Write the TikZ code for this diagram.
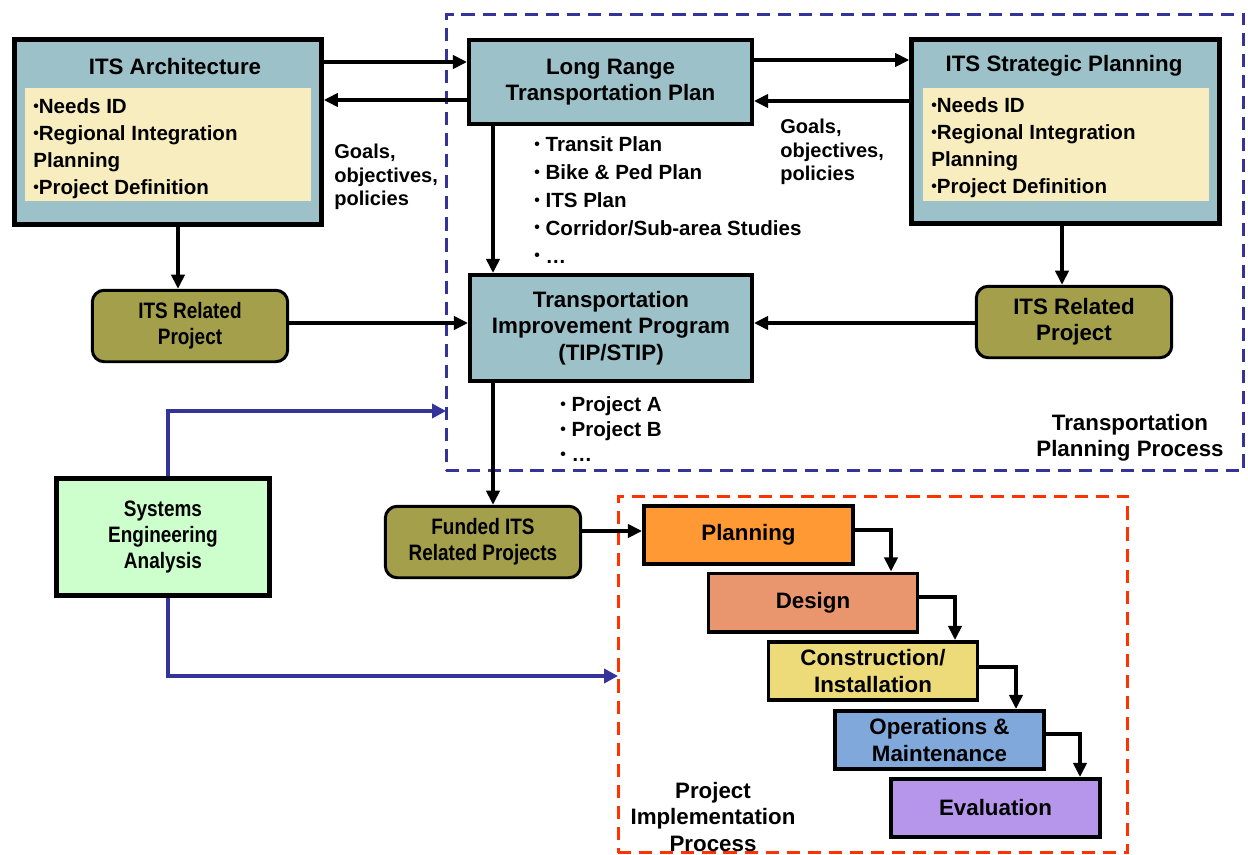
\documentclass[tikz,border=0pt]{standalone}
\usepackage{fontspec}
\usepackage{graphicx}
\setmainfont{Liberation Sans}
\usetikzlibrary{arrows.meta}

\definecolor{boxblue}{HTML}{9CC1C8}
\definecolor{notey}{HTML}{F7EDBE}
\definecolor{olive}{HTML}{A39F4A}
\definecolor{seagreen}{HTML}{CCFFCC}
\definecolor{tppblue}{HTML}{333399}
\definecolor{pipred}{HTML}{FF3300}
\definecolor{cplan}{HTML}{FF9933}
\definecolor{cdesign}{HTML}{E9966F}
\definecolor{cconstr}{HTML}{EDDB79}
\definecolor{cops}{HTML}{80A8DB}
\definecolor{ceval}{HTML}{B596EB}

% horizontally condensed line
\newcommand\cond[1]{\scalebox{0.85}[1]{#1}}
% small bullet
\newcommand\dotb{\raisebox{0.22ex}{\fontsize{9}{9}\selectfont\textbullet}}

\begin{document}
\begin{tikzpicture}[x=0.02cm,y=-0.02cm,
  txt/.style={font=\bfseries\fontsize{12.7}{15}\selectfont, align=center},
  lst/.style={font=\bfseries\fontsize{11.7}{15}\selectfont, align=left, inner sep=0pt},
  heavy/.style={txt, draw, line width=2.6pt, fill=boxblue, inner sep=0pt},
  mid/.style={txt, draw, line width=2.3pt, fill=boxblue, inner sep=0pt},
  yel/.style={fill=notey, inner sep=0pt},
  oliv/.style={txt, draw, line width=1.7pt, fill=olive, rounded corners=0.24cm,
    minimum width=3.91cm, minimum height=1.43cm, inner sep=0pt},
  phase/.style={txt, draw, line width=2pt, minimum width=4.19cm,
    minimum height=1.17cm, inner sep=0pt},
  dashbox/.style={draw, line width=1.7pt, dash pattern=on 7.5pt off 4.5pt,
    inner sep=0pt, outer sep=0pt},
  arr/.style={line width=1.9pt, -{Triangle[length=8pt,width=7.5pt]}},
  sealine/.style={draw=tppblue, line width=2.3pt, -{Triangle[length=8pt,width=8pt]}}
]
\useasboundingbox (0,0) rectangle (1248,855);

% process frames
\node[dashbox, draw=tppblue, minimum width=15.96cm, minimum height=9.14cm] (tpp) at (845,242.5) {};
\node[dashbox, draw=pipred, minimum width=10.2cm, minimum height=7.14cm] (pip) at (873,674.5) {};

% ITS Architecture
\node[heavy, minimum width=6.14cm, minimum height=3.70cm] (arch) at (168,132) {};
\node[txt] (archT) at (175,67) {ITS Architecture};
\node[yel, minimum width=5.72cm, minimum height=2.26cm] (archY) at (168,144.5) {};
\node[lst, anchor=west, font=\bfseries\fontsize{11.7}{15.3}\selectfont] (archL) at (33,149)
  {\dotb Needs ID\\\dotb Regional Integration\\Planning\\\dotb Project Definition};

% ITS Strategic Planning
\node[heavy, minimum width=6.16cm, minimum height=3.68cm] (strat) at (1065.5,131.5) {};
\node[txt] (stratT) at (1064,66) {ITS Strategic Planning};
\node[yel, minimum width=5.72cm, minimum height=2.26cm] (stratY) at (1066,144.5) {};
\node[lst, anchor=west, font=\bfseries\fontsize{11.7}{15.3}\selectfont] (stratL) at (931,148)
  {\dotb Needs ID\\\dotb Regional Integration\\Planning\\\dotb Project Definition};

% plans
\node[mid, minimum width=5.66cm, minimum height=1.68cm] (lrtp) at (610.5,82)
  {Long Range\\Transportation Plan};
\node[mid, minimum width=5.64cm, minimum height=2.12cm] (tip) at (611,328)
  {Transportation\\Improvement Program\\(TIP/STIP)};

\node[lst, anchor=west, font=\bfseries\fontsize{11.7}{15.9}\selectfont] (lrtpList) at (534,200)
  {\dotb{} Transit Plan\\\dotb{} Bike \& Ped Plan\\\dotb{} ITS Plan\\\dotb{} Corridor/Sub-area Studies\\\dotb{} …};
\node[lst, anchor=west, font=\bfseries\fontsize{11.7}{14.2}\selectfont] (tipList) at (560,429)
  {\dotb{} Project A\\\dotb{} Project B\\\dotb{} …};

\node[lst, anchor=west, font=\bfseries\fontsize{11.4}{13.3}\selectfont] (goalsL) at (334,177)
  {Goals,\\objectives,\\policies};
\node[lst, anchor=west, font=\bfseries\fontsize{11.4}{13.3}\selectfont] (goalsR) at (780,152)
  {Goals,\\objectives,\\policies};

% projects
\node[oliv] (relL) at (190,326) {\cond{ITS Related}\\\cond{Project}};
\node[oliv] (relR) at (1074,322) {ITS Related\\Project};
\node[oliv] (funded) at (483,542) {\cond{Funded ITS}\\\cond{Related Projects}};

\node[heavy, fill=seagreen, minimum width=4.26cm, minimum height=2.34cm] (sea) at (163,537)
  {\cond{Systems}\\\cond{Engineering}\\\cond{Analysis}};

% implementation phases
\node[phase, fill=cplan] (planning) at (748.5,535) {Planning};
\node[phase, fill=cdesign] (design) at (813,602.5) {Design};
\node[phase, fill=cconstr] (constr) at (873,671) {Construction/\\Installation};
\node[phase, fill=cops] (ops) at (939.5,740) {Operations \&\\Maintenance};
\node[phase, fill=ceval] (eval) at (995.5,808) {Evaluation};

% frame titles
\node[txt] (tppT) at (1130,438) {Transportation\\Planning Process};
\node[txt] (pipT) at (713,817) {Project\\Implementation\\Process};

% connectors
\draw[arr] (arch.east |- 0,62) -- (lrtp.west |- 0,62);
\draw[arr] (lrtp.west |- 0,100) -- (arch.east |- 0,100);
\draw[arr] (lrtp.east |- 0,60) -- (strat.west |- 0,60);
\draw[arr] (strat.west |- 0,101) -- (lrtp.east |- 0,101);
\draw[arr] (lrtp.south -| 493,0) -- (tip.north -| 493,0);
\draw[arr] (tip.south -| 493,0) -- (funded.north -| 493,0);
\draw[arr] (arch.south -| 178,0) -- (relL.north -| 178,0);
\draw[arr] (relL.east |- 0,323) -- (tip.west |- 0,323);
\draw[arr] (strat.south -| 1062,0) -- (relR.north -| 1062,0);
\draw[arr] (relR.west |- 0,323) -- (tip.east |- 0,323);
\draw[arr] (funded.east |- 0,531) -- (planning.west |- 0,531);
\draw[arr] (planning.east |- 0,530) -| (design.north -| 891,0);
\draw[arr] (design.east |- 0,597) -| (constr.north -| 955,0);
\draw[arr] (constr.east |- 0,667) -| (ops.north -| 1016,0);
\draw[arr] (ops.east |- 0,734) -| (eval.north -| 1080,0);

\draw[sealine] (sea.north -| 168,0) |- (tpp.west |- 0,411);
\draw[sealine] (sea.south -| 168,0) |- (pip.west |- 0,676);
\end{tikzpicture}
\end{document}
